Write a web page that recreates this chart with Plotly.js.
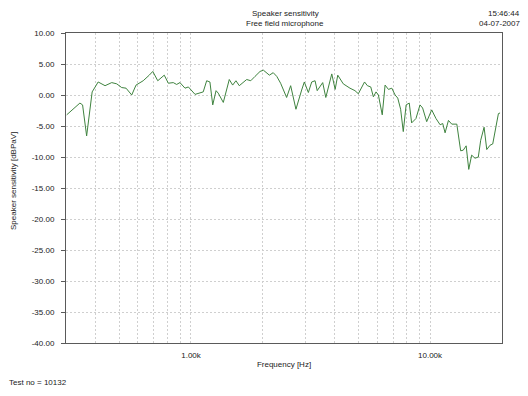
<!DOCTYPE html>
<html>
<head>
<meta charset="utf-8">
<script src="https://cdn.plot.ly/plotly-3.0.1.min.js"></script>
<style>
  html, body { margin: 0; padding: 0; background: #ffffff; }
  #chart { width: 528px; height: 396px; }
</style>
</head>
<body>
<div id="chart"></div>
<script>
// Frequency in Hz (log axis)
var frequencyHz = [
  302, 343, 352, 366, 386, 409, 437, 466, 489, 513,
  535, 565, 589, 631, 669, 692, 726, 773, 804, 843,
  871, 899, 944, 975, 1040, 1091, 1125, 1163, 1200, 1233,
  1273, 1300, 1365, 1446, 1494, 1542, 1592, 1710, 1778, 1853,
  1945, 2009, 2128, 2208, 2285, 2371, 2512, 2612, 2748, 2904,
  2979, 3097, 3199, 3304, 3373, 3556, 3664, 3881, 4009, 4111,
  4335, 4624, 4853, 5012, 5321, 5470, 5649, 5794, 5943, 6081,
  6310, 6486, 6699, 6918, 7145, 7328, 7534, 7727, 7943, 8185,
  8375, 8730, 9078, 9311, 9683, 10160, 10590, 11020, 11300, 11560,
  11940, 12330, 12940, 13430, 13770, 14160, 14520, 14930, 15420, 15920,
  16290, 16830, 17270, 17820, 18290, 19320, 19630
];
// Speaker sensitivity in dBPa/V
var sensitivityDb = [
  -3.2, -1.3, -1.6, -6.6, 0.5, 2.1, 1.5, 2.0, 1.8, 1.2,
  1.1, 0.0, 1.6, 2.3, 3.2, 3.8, 2.3, 3.2, 1.9, 2.0,
  1.7, 2.0, 1.1, 1.3, 0.1, 0.3, 0.5, 2.3, 2.1, -1.6,
  0.7, 0.3, -1.2, 2.5, 1.6, 2.3, 1.5, 2.5, 2.3, 3.0,
  3.8, 4.0, 3.2, 3.6, 3.0, 1.9, -0.4, 1.5, -2.3, 0.8,
  2.1, 0.4, 2.1, 2.3, 0.7, 2.0, -0.4, 3.4, 0.9, 3.2,
  1.8, 1.1, 0.7, 0.2, 2.1, 1.5, 1.3, -0.3, 0.5, 0.0,
  -3.2, 1.6, 0.9, 1.1, 0.0, -0.5, -2.3, -5.9, -1.6, -1.3,
  -4.5, -3.8, -1.6, -2.1, -4.3, -2.4, -3.8, -4.8, -4.6, -6.1,
  -4.1, -4.7, -4.7, -9.0, -8.9, -8.2, -12.0, -9.7, -10.2, -10.0,
  -7.3, -5.2, -8.8, -8.1, -7.9, -3.0, -2.9
];
// X grid / tick positions and labels
var xTickVals = [400, 500, 600, 700, 800, 900, 1000, 2000, 3000, 4000, 5000, 6000, 7000, 8000, 9000, 10000];
var xTickText = ['', '', '', '', '', '', '1.00k', '', '', '', '', '', '', '', '', '10.00k'];
// Y ticks
var yTickVals = [-40, -35, -30, -25, -20, -15, -10, -5, 0, 5, 10];
var yTickText = yTickVals.map(function (v) { return v.toFixed(2); });

var font = { family: 'Liberation Sans, Arial, sans-serif', size: 8, color: '#222222' };

var trace = {
  x: frequencyHz,
  y: sensitivityDb,
  type: 'scatter',
  mode: 'lines',
  line: { color: '#3f833f', width: 1 },
  hoverinfo: 'skip'
};

var layout = {
  width: 528,
  height: 396,
  margin: { l: 66, r: 26, t: 33, b: 53, pad: 0 },
  paper_bgcolor: '#ffffff',
  plot_bgcolor: '#ffffff',
  showlegend: false,
  font: font,
  xaxis: {
    type: 'log',
    range: [Math.log10(300), Math.log10(20000)],
    tickmode: 'array',
    tickvals: xTickVals,
    ticktext: xTickText,
    ticks: '',
    showgrid: true,
    gridcolor: '#cfcfcf',
    griddash: '2px,2px',
    gridwidth: 1,
    showline: true,
    mirror: true,
    linecolor: '#5a5a5a',
    linewidth: 1,
    zeroline: false,
    tickfont: font,
    ticklabelstandoff: 4,
    title: { text: 'Frequency [Hz]', font: font, standoff: 2 }
  },
  yaxis: {
    range: [-40, 10],
    tickmode: 'array',
    tickvals: yTickVals,
    ticktext: yTickText,
    ticks: 'outside',
    ticklen: 4,
    tickcolor: '#5a5a5a',
    showgrid: true,
    gridcolor: '#cfcfcf',
    griddash: '2px,2px',
    gridwidth: 1,
    showline: true,
    mirror: true,
    linecolor: '#5a5a5a',
    linewidth: 1,
    zeroline: false,
    tickfont: font,
    ticklabelstandoff: 5
  },
  annotations: [
    { text: 'Speaker sensitivity', xref: 'paper', yref: 'paper', x: (285 - 66) / 436, y: 1 + (33 - 13) / 310, xanchor: 'center', yanchor: 'middle', showarrow: false, font: font },
    { text: 'Free field microphone', xref: 'paper', yref: 'paper', x: (285 - 66) / 436, y: 1 + (33 - 23) / 310, xanchor: 'center', yanchor: 'middle', showarrow: false, font: font },
    { text: '15:46:44', xref: 'paper', yref: 'paper', x: (522 - 66) / 436, y: 1 + (33 - 13) / 310, xanchor: 'right', yanchor: 'middle', showarrow: false, font: font },
    { text: '04-07-2007', xref: 'paper', yref: 'paper', x: (522 - 66) / 436, y: 1 + (33 - 23) / 310, xanchor: 'right', yanchor: 'middle', showarrow: false, font: font },
    { text: 'Speaker sensitivity [dBPaV]', xref: 'paper', yref: 'paper', x: (13 - 66) / 436, y: (343 - 181) / 310, xanchor: 'center', yanchor: 'middle', textangle: -90, showarrow: false, font: font },
    { text: 'Test no = 10132', xref: 'paper', yref: 'paper', x: (7 - 66) / 436, y: (343 - 383) / 310, xanchor: 'left', yanchor: 'middle', showarrow: false, font: font }
  ]
};

Plotly.newPlot('chart', [trace], layout, { displayModeBar: false, staticPlot: true });
</script>
</body>
</html>
